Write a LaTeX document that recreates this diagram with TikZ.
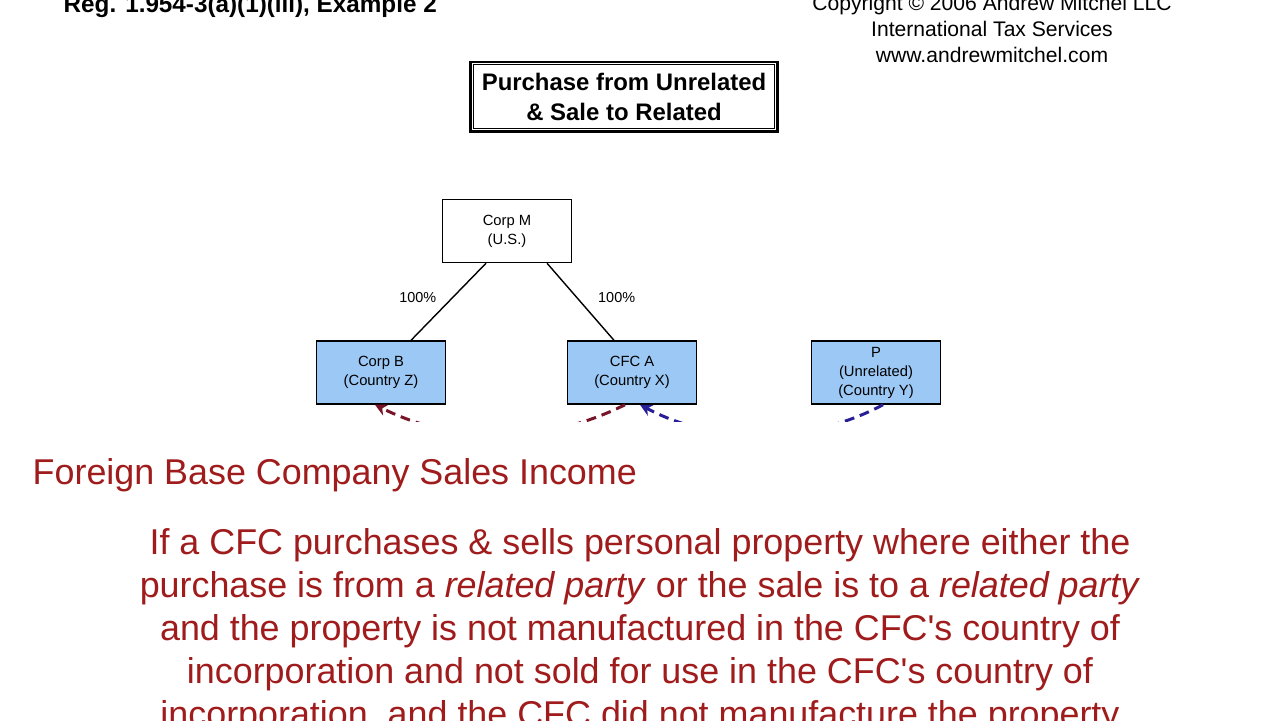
\documentclass[tikz,border=0pt]{standalone}
\usepackage{fontspec}
\setmainfont{Liberation Sans}[Ligatures=TeXOff]
\usetikzlibrary{arrows.meta}
\definecolor{boxblue}{RGB}{156,200,245}
\definecolor{textred}{RGB}{160,28,28}
\definecolor{salered}{RGB}{120,20,40}
\definecolor{buyblue}{RGB}{40,30,150}

\begin{document}
\begin{tikzpicture}[x=0.01cm, y=-0.01cm,
	corp/.style={draw, line width=0.4pt, minimum width=1.29cm, minimum height=0.63cm, inner sep=0pt, align=center, font=\fontsize{4.2}{5.4}\selectfont},
	sub/.style={corp, fill=boxblue},
	share/.style={inner sep=0pt, font=\fontsize{4.1}{5}\selectfont},
	flow/.style={line width=0.85pt, dash pattern=on 2.8pt off 1.7pt, -{Stealth[length=3.4pt, width=3.4pt]}}]
	%\draw[help lines] (0,0) grid[step=100] (1280,720);
	\useasboundingbox (0,0) rectangle (1280,720);
	\clip (0,0) rectangle (1280,720);
	\node[anchor=base west, inner sep=0pt, font=\fontsize{6.9}{8}\selectfont\bfseries] (reg) at (63,12) {Reg. 1.954-3(a)(1)(iii), Example 2};
	\node[anchor=north, align=center, inner sep=0pt, font=\fontsize{6}{7.4}\selectfont] (copy) at (992,-6) {Copyright © 2006 Andrew Mitchel LLC\\International Tax Services\\www.andrewmitchel.com};
	\node[draw, line width=0.85pt, minimum width=3.06cm, minimum height=0.69cm, inner sep=0pt, align=center, font=\fontsize{6.8}{8.5}\selectfont\bfseries] (title) at (624,96.5) {Purchase from Unrelated\\\& Sale to Related};
	\draw[line width=0.3pt] ([shift={(1.15pt,-1.15pt)}]title.north west) rectangle ([shift={(-1.15pt,1.15pt)}]title.south east);
	\node[corp, fill=white] (corpm) at (507,231) {Corp M\\(U.S.)};
	\node[sub] (corpb) at (381,372.5) {Corp B\\(Country Z)};
	\node[sub] (cfca) at (632,372.5) {CFC A\\(Country X)};
	\node[sub] (unrel) at (876,372.5) {P\\(Unrelated)\\(Country Y)};
	\draw[line width=0.4pt] ([xshift=-0.21cm]corpm.south) -- node[share, pos=0.44, left=0.16cm] {100\%} ([xshift=0.30cm]corpb.north);
	\draw[line width=0.4pt] ([xshift=0.40cm]corpm.south) -- node[share, pos=0.44, right=0.21cm] {100\%} ([xshift=-0.18cm]cfca.north);
	\draw[flow, salered] ([xshift=-0.07cm]cfca.south) .. controls +(-80,40) and +(80,40) .. ([xshift=-0.06cm]corpb.south);
	\draw[flow, buyblue] ([xshift=0.07cm]unrel.south) .. controls +(-75,40) and +(75,40) .. ([xshift=0.08cm]cfca.south);
	% text panel over the lower part
	\fill[white] (0,422) rectangle (1280,720);
	\node[anchor=base west, inner sep=0pt, textred, font=\fontsize{10.2}{12}\selectfont] (fbcsi) at (32,484) {Foreign Base Company Sales Income};
	\node[anchor=north, align=center, inner sep=0pt, textred, font=\fontsize{10.2}{12.2}\selectfont] (rule) at (640,528) {If a CFC purchases \& sells personal property where either the\\purchase is from a \textit{related party} or the sale is to a \textit{related party}\\and the property is not manufactured in the CFC's country of\\incorporation and not sold for use in the CFC's country of\\incorporation, and the CFC did not manufacture the property};
\end{tikzpicture}
\end{document}
